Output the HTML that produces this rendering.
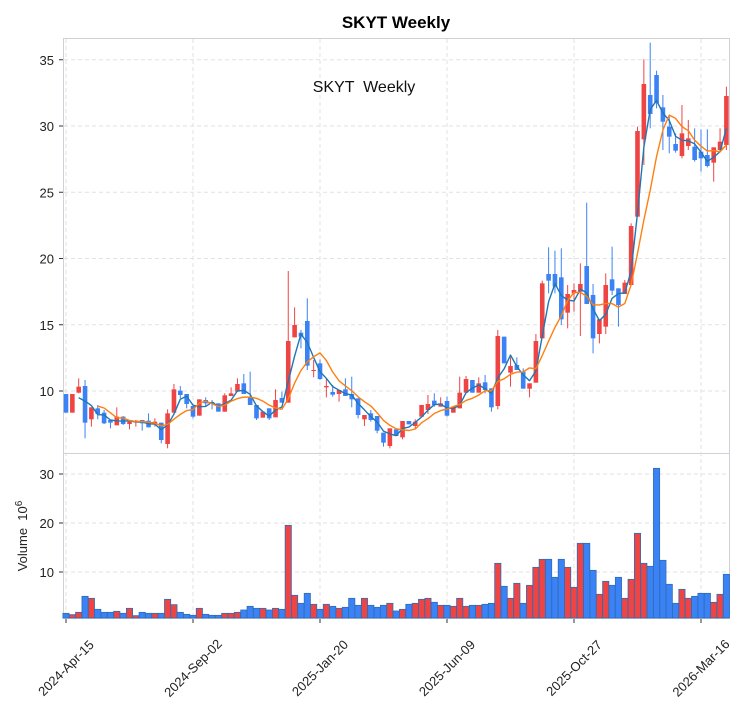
<!DOCTYPE html>
<html><head><meta charset="utf-8"><style>
body{margin:0;background:#fff;}
svg{display:block;font-family:"Liberation Sans",sans-serif;}
</style></head><body>
<svg id="c" width="750" height="712" xmlns="http://www.w3.org/2000/svg"></svg>
<script>
const A=[[372,428,372,428,'b'],[372,428,372,428,'r'],[350,368,325,370,'r'],[348,458,330,505,'b'],[412,448,412,470,'r'],[415,432,405,448,'b'],[428,460,420,462,'b'],[450,458,450,475,'b'],[440,466,412,466,'r'],[440,462,438,465,'b'],[455,462,455,478,'r'],[452,456,450,470,'r'],[450,460,450,482,'b'],[452,472,430,472,'b'],[455,462,445,470,'r'],[458,510,458,520,'b'],[430,522,418,535,'r'],[358,428,342,428,'r'],[362,375,348,385,'b'],[372,402,372,415,'b'],[408,440,408,445,'b'],[388,437,388,437,'r'],[390,400,382,410,'b'],[396,402,390,418,'b'],[400,425,400,425,'b'],[376,425,370,425,'r'],[370,378,352,378,'r'],[342,365,325,365,'r'],[340,372,312,372,'b'],[380,405,305,405,'b'],[405,445,405,450,'b'],[425,443,425,443,'r'],[415,445,415,450,'b'],[390,442,358,442,'r'],[384,398,365,398,'b'],
[213,398,3,398,'r'],[165,202,112,202,'r'],[188,200,180,235,'b'],[153,287,85,300,'b'],[300,303,270,322,'r'],[280,327,268,330,'b'],[348,352,325,382,'r'],[366,374,345,380,'b'],[360,372,360,395,'r'],[358,378,325,378,'b'],[372,388,320,412,'b'],[385,435,385,445,'b'],[435,448,435,468,'r'],[430,450,420,455,'b'],[438,482,438,490,'b'],[488,518,488,530,'b'],[475,528,475,535,'r'],[478,498,478,498,'b'],[453,502,453,508,'r'],[453,463,453,463,'b'],[455,468,448,478,'r'],[405,440,405,440,'r'],[402,420,375,432,'r'],[392,405,370,410,'b'],[400,410,382,410,'r'],[393,437,380,440,'b'],[410,428,410,428,'r'],[368,415,320,415,'r'],[327,368,318,368,'r'],[330,368,330,368,'b'],[340,368,322,368,'r'],[337,360,315,370,'b'],[355,412,355,425,'b'],[198,408,180,418,'r'],[200,280,200,280,'b'],[288,308,262,350,'r'],[285,300,262,300,'b'],[305,356,295,356,'b'],[340,356,340,382,'r']];
const C=[[933,1058,912,1058,'r'],[760,925,752,925,'r'],[732,752,652,790,'b'],[732,770,662,790,'b'],[742,868,655,885,'b'],[792,848,765,895,'r'],[780,790,760,845,'r'],[762,785,700,918,'r'],[708,822,518,822,'b'],[795,925,762,970,'b'],[868,912,868,940,'r'],[765,890,730,912,'r'],[748,782,650,795,'b'],[775,825,775,890,'b'],[758,792,750,792,'r'],[588,765,580,765,'r'],[303,560,290,560,'r'],[162,328,88,405,'r'],[195,252,38,295,'b'],[135,220,122,235,'b'],[232,275,195,360,'b'],[290,320,255,370,'b'],[342,362,310,368,'b'],[310,378,225,385,'r'],[325,348,270,360,'r'],[350,390,295,395,'b'],[365,385,298,425,'b'],[375,408,298,412,'b'],[352,398,352,455,'r'],[335,360,295,365,'r'],[198,345,170,360,'r']];
const cd=[];A.forEach(d=>cd.push([270+d[0]/3,270+d[1]/3,270+d[2]/3,270+d[3]/3,d[4]]));
C.forEach(d=>cd.push([30+d[0]/3,30+d[1]/3,30+d[2]/3,30+d[3]/3,d[4]]));
const V1=[[280,'b'],[284,'r'],[277,'r'],[229,'b'],[235,'r'],[268,'b'],[277,'b'],[277,'b'],[274,'r'],[280,'b'],[265,'r'],[287,'r'],[277,'b'],[280,'b'],[280,'r'],[280,'b'],[238,'r'],[254,'r'],[277,'b'],[283,'b'],[286,'b'],[265,'r'],[283,'b'],[286,'b'],[286,'b'],[280,'r'],[280,'r'],[277,'r'],[270,'b'],[259,'b'],[265,'b'],[265,'r'],[270,'b'],[265,'r'],[268,'b'],[16,'r'],[226,'r'],[250,'b'],[220,'b'],[253,'r'],[268,'b'],[253,'r'],[259,'b'],[265,'r'],[262,'b'],[235,'b'],[256,'b'],[235,'r'],[256,'b'],[262,'b'],[256,'b'],[250,'r']];
const V2=[[453,'b'],[448,'r'],[433,'b'],[430,'r'],[418,'r'],[415,'r'],[427,'b'],[436,'r'],[436,'b'],[439,'r'],[415,'r'],[439,'r'],[436,'b'],[436,'r'],[433,'b'],[430,'b'],[310,'r'],[379,'b'],[415,'r'],[370,'r'],[430,'b'],[376,'r'],[322,'r'],[298,'r'],[298,'b'],[352,'b'],[298,'b'],[322,'r'],[382,'r'],[250,'r'],[250,'b'],[331,'b'],[403,'r'],[364,'r'],[376,'b'],[352,'b'],[415,'r'],[358,'r'],[220,'r'],[310,'r'],[319,'b'],[25,'b'],[301,'b'],[373,'b'],[430,'b'],[388,'r'],[415,'r'],[409,'b'],[400,'b'],[400,'b'],[427,'r'],[403,'r'],[343,'b']];
const vol=[];V1.forEach(v=>vol.push([520+v[0]/3,v[1]]));V2.forEach(v=>vol.push([460+v[0]/3,v[1]]));
const R='#ef4444',B='#3b82f6';
const X=i=>66+i*6.35;
let s='';
// frames
s+='<rect x="63.5" y="38.5" width="666" height="415" fill="none" stroke="#d0d0d8"/>';
s+='<rect x="63.5" y="453.5" width="666" height="165" fill="none" stroke="#d0d0d8"/>';
// grid
const py=v=>391-(v-10)*13.25;
for(let v=10;v<=35;v+=5){const y=py(v);s+=`<line x1="64" x2="729" y1="${y}" y2="${y}" stroke="#e2e2e2" stroke-dasharray="4,3"/><line x1="59" x2="63" y1="${y}" y2="${y}" stroke="#333"/><text x="54" y="${y+5}" font-size="13" text-anchor="end" fill="#222">${v}</text>`;}
for(let v=10;v<=30;v+=10){const y=621-v*4.9;s+=`<line x1="64" x2="729" y1="${y}" y2="${y}" stroke="#e2e2e2" stroke-dasharray="4,3"/><line x1="59" x2="63" y1="${y}" y2="${y}" stroke="#333"/><text x="54" y="${y+5}" font-size="13" text-anchor="end" fill="#222">${v}</text>`;}
const lab=['2024-Apr-15','2024-Sep-02','2025-Jan-20','2025-Jun-09','2025-Oct-27','2026-Mar-16'];
lab.forEach((l,k)=>{const x=X(k*20);s+=`<line x1="${x}" x2="${x}" y1="39" y2="618" stroke="#e2e2e2" stroke-dasharray="4,3"/><line x1="${x}" x2="${x}" y1="619" y2="623" stroke="#333"/><text x="${x}" y="668" font-size="13" text-anchor="middle" dominant-baseline="central" transform="rotate(-45 ${x} 668)" fill="#222">${l}</text>`;});
// volume
vol.forEach((v,i)=>{const x=X(i)-3.1;s+=`<rect x="${x}" y="${v[0]}" width="6.2" height="${Math.max(618-v[0],0.5)}" fill="${v[1]=='r'?R:B}" stroke="#2f6db5" stroke-width="0.8"/>`;});
// candles
cd.forEach((d,i)=>{const x=X(i),c=d[4]=='r'?R:B;s+=`<line x1="${x}" x2="${x}" y1="${d[2]}" y2="${d[3]}" stroke="${c}" stroke-width="1"/><rect x="${x-2.3}" y="${d[0]}" width="4.6" height="${Math.max(d[1]-d[0],1)}" fill="${c}"/>`;});
// MAs
const cl=cd.map(d=>d[4]=='r'?d[0]:d[1]);
function ma(n,col,w){let p=[];for(let i=n-1;i<cl.length;i++){let a=0;for(let j=0;j<n;j++)a+=cl[i-j];p.push(X(i).toFixed(1)+','+(a/n).toFixed(1));}s+=`<polyline points="${p.join(' ')}" fill="none" stroke="${col}" stroke-width="${w}" stroke-linejoin="round"/>`;}
ma(3,'#1f77b4',1.4);ma(6,'#ff7f0e',1.4);
s+='<text x="396" y="28" font-size="17" font-weight="bold" text-anchor="middle" fill="#000">SKYT  Weekly</text>';
s+='<text x="364" y="92" font-size="16" text-anchor="middle" fill="#111" xml:space="preserve">SKYT  Weekly</text>';
s+='<text x="0" y="0" font-size="13" text-anchor="middle" transform="translate(27 536) rotate(-90)" fill="#222" xml:space="preserve">Volume  10<tspan dy="-5" font-size="10">6</tspan></text>';
document.getElementById('c').innerHTML=s;
</script>
</body></html>
